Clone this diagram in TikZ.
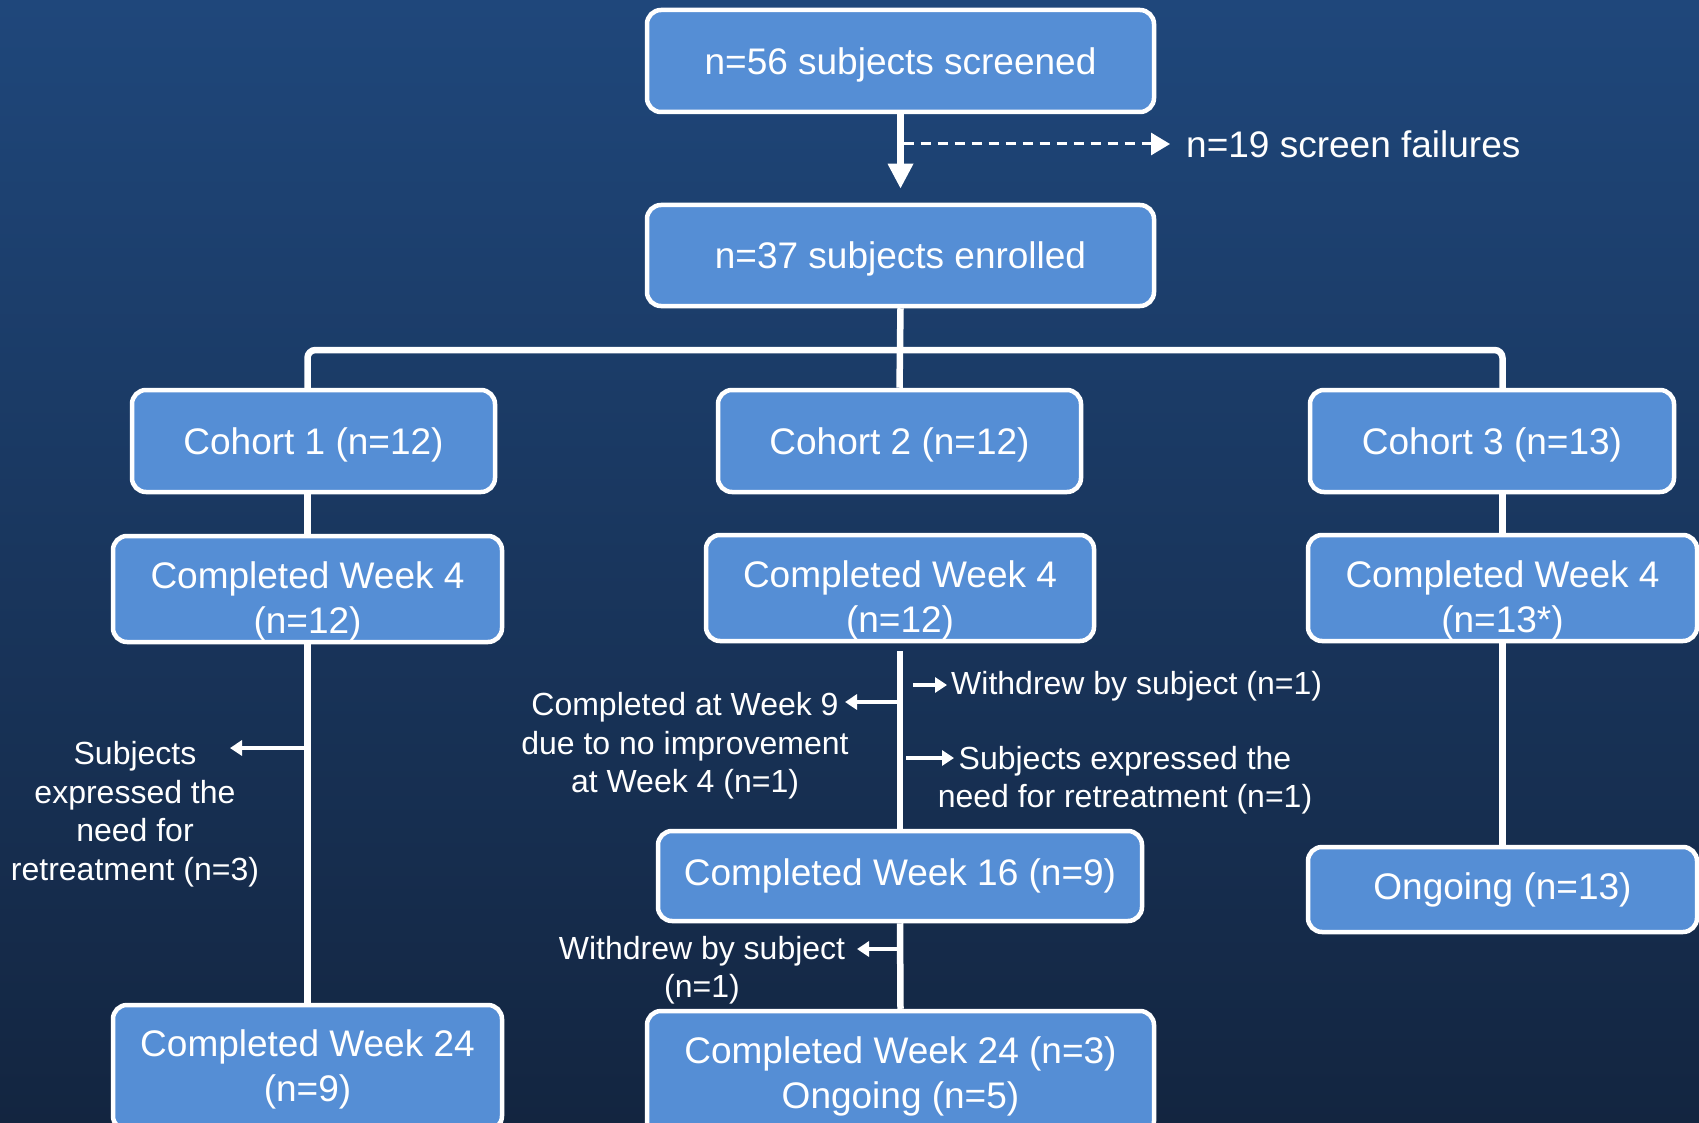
\documentclass[tikz,border=0pt]{standalone}
\usepackage{fontspec}
\setmainfont{Liberation Sans}
\usepackage{xcolor}
\usetikzlibrary{arrows.meta}

\definecolor{bgtop}{RGB}{31,71,123}
\definecolor{bgbot}{RGB}{19,37,64}
\definecolor{boxblue}{RGB}{85,142,213}

\begin{document}
\begin{tikzpicture}[x=1pt, y=-1pt,
		box/.style = {draw=white, line width=4.5pt, fill=boxblue, rounded corners=14pt,
			text=white, font=\fontsize{37}{45}\selectfont, align=center, inner sep=0pt,
			execute at begin node={\rule{0pt}{#1}}},
		box/.default = 34pt,
		note/.style = {text=white, font=\fontsize{32}{38.5}\selectfont, align=center, inner sep=0pt},
		link/.style = {draw=white, line width=6.5pt},
		side/.style = {draw=white, line width=4.5pt, -{Triangle[length=12pt, width=15pt]}},
		dashline/.style = {draw=white, line width=3pt, dash pattern=on 10pt off 7pt,
			-{Triangle[length=19pt, width=22pt]}}]
			% fond
			\useasboundingbox (0,0) rectangle (1699,1123);
			\clip (0,0) rectangle (1699,1123);
			\shade [top color=bgtop, bottom color=bgbot] (0,0) rectangle (1699,1123);
			
			% inclusion
			\node [box, minimum width=507pt, minimum height=102pt] (scr) at (900.5,61) {n=56 subjects screened};
			\node [box, minimum width=507pt, minimum height=101pt] (enr) at (900.5,255.5) {n=37 subjects enrolled};
			\node [note, font=\fontsize{37}{45}\selectfont, anchor=west] (fail) at (1186,144) {n=19 screen failures};
			
			\draw [link, -{Triangle[length=25pt, width=24pt]}, shorten >=14pt] (scr.south) -- (enr.north);
			\draw [dashline, shorten <=3pt, shorten >=16pt] (scr.south |- fail.west) -- (fail.west);
			
			% cohortes
			\node [box, minimum width=363pt, minimum height=102pt] (c1) at (313.5,441) {Cohort 1 (n=12)};
			\node [box, minimum width=363pt, minimum height=102pt] (c2) at (899.5,441) {Cohort 2 (n=12)};
			\node [box, minimum width=364pt, minimum height=102pt] (c3) at (1492,441) {Cohort 3 (n=13)};
			
			\node [box=96pt, minimum width=389pt, minimum height=106pt] (w4a) at (307.5,589) {Completed Week 4\\(n=12)};
			\node [box=96pt, minimum width=388pt, minimum height=106pt] (w4b) at (900,588) {Completed Week 4\\(n=12)};
			\node [box=96pt, minimum width=389pt, minimum height=106pt] (w4c) at (1502.5,588) {Completed Week 4\\(n=13*)};
			
			\coordinate (split) at (900,350);
			\draw [link] (enr.south) -- (c2.north);
			\draw [link, rounded corners=8pt] (c1.north -| w4a.north) |- (split) -| (c3.north -| w4c.north);
			\draw [link] (c1.south -| w4a.north) -- (w4a.north);
			\draw [link] (c3.south -| w4c.north) -- (w4c.north);
			
			% cohorte 1
			\node [box=76.5pt, minimum width=389pt, minimum height=125pt] (w24a) at (307.5,1067.5) {Completed Week 24\\(n=9)};
			\node [note] (r1) at (135,814) {Subjects\\expressed the\\need for\\retreatment (n=3)};
			\draw [link] (w4a.south) -- (w24a.north);
			\coordinate (r1s) at (307,748);
			\coordinate (r1e) at (230,748);
			\draw [side] (r1s) -- (r1e);
			
			% cohorte 2
			\node [box=0pt, minimum width=484pt, minimum height=90pt] (w16) at (900,876) {Completed Week 16 (n=9)};
			\node [box=78.5pt, minimum width=507pt, minimum height=124pt] (w24b) at (900.5,1073) {Completed Week 24 (n=3)\\Ongoing (n=5)};
			\draw [link, shorten <=8pt] (w4b.south) -- (w16.north);
			\draw [link] (w16.south) -- (w24b.north);
			
			\node [note, anchor=west] (wd1) at (951,686.5) {Withdrew by subject (n=1)};
			\node [note] (c9) at (685,746) {Completed at Week 9\\due to no improvement\\at Week 4 (n=1)};
			\node [note] (rt2) at (1125,780) {Subjects expressed the\\need for retreatment (n=1)};
			\node [note] (wd2) at (702,970) {Withdrew by subject\\(n=1)};
			
			\coordinate (wd1s) at (913,685);
			\coordinate (wd1e) at (947,685);
			\coordinate (c9s) at (899,702);
			\coordinate (c9e) at (845,702);
			\coordinate (rt2s) at (906,758);
			\coordinate (rt2e) at (954,758);
			\coordinate (wd2s) at (899,949);
			\coordinate (wd2e) at (857,949);
			\draw [side] (wd1s) -- (wd1e);
			\draw [side] (c9s) -- (c9e);
			\draw [side] (rt2s) -- (rt2e);
			\draw [side] (wd2s) -- (wd2e);
			
			% cohorte 3
			\node [box=0pt, minimum width=389pt, minimum height=85pt] (ong) at (1502.5,889.5) {Ongoing (n=13)};
			\draw [link] (w4c.south) -- (ong.north);
\end{tikzpicture}
\end{document}
